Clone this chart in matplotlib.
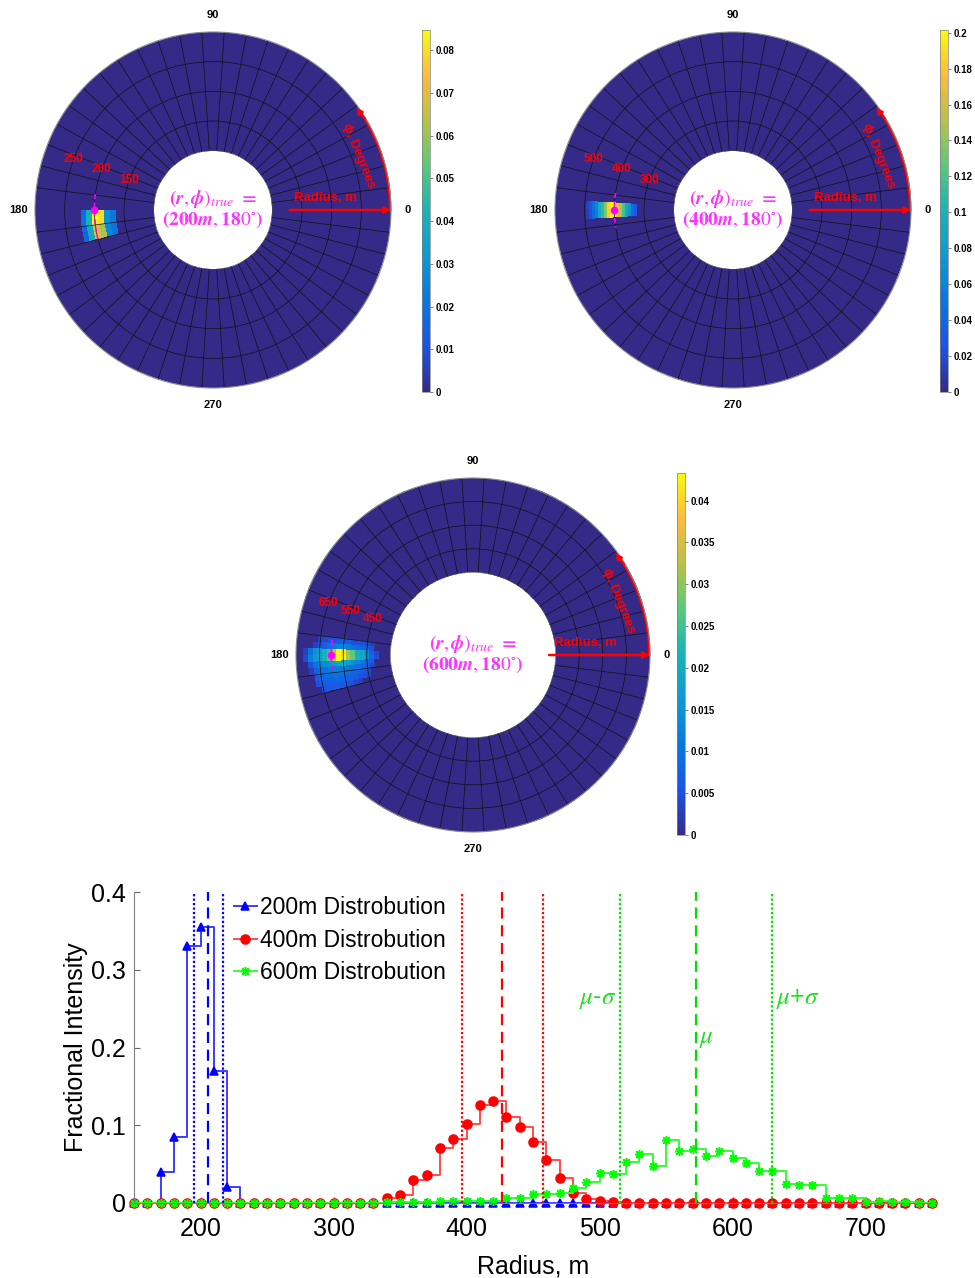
import numpy as np
import matplotlib
matplotlib.use('Agg')
import matplotlib.pyplot as plt
from matplotlib.colors import LinearSegmentedColormap

plt.rcParams['font.family'] = ['Liberation Sans', 'DejaVu Sans']
plt.rcParams['mathtext.fontset'] = 'stix'

# ---------------- Bottom chart data ----------------
radius_m = np.arange(150, 760, 10)

r200 = [170, 180, 190, 200, 210, 220]
v200 = [0.040, 0.085, 0.330, 0.355, 0.170, 0.020]

r400 = [340, 350, 360, 370, 380, 390, 400, 410, 420, 430, 440, 450, 460, 470, 480, 490, 500, 510]
v400 = [0.006, 0.010, 0.029, 0.036, 0.071, 0.082, 0.102, 0.126, 0.131, 0.111, 0.098, 0.078,
        0.055, 0.032, 0.013, 0.005, 0.003, 0.001]

r600 = [340, 350, 360, 370, 380, 390, 400, 410, 420, 430, 440, 450, 460, 470, 480, 490, 500, 510,
        520, 530, 540, 550, 560, 570, 580, 590, 600, 610, 620, 630, 640, 650, 660, 670, 680, 690,
        700, 710, 720, 730]
v600 = [0.001, 0.001, 0.001, 0.001, 0.002, 0.003, 0.002, 0.002, 0.002, 0.006, 0.007, 0.012,
        0.012, 0.013, 0.019, 0.027, 0.038, 0.037, 0.053, 0.063, 0.048, 0.081, 0.067, 0.070,
        0.061, 0.067, 0.058, 0.051, 0.041, 0.041, 0.025, 0.023, 0.023, 0.006, 0.007, 0.007,
        0.001, 0.002, 0.001, 0.001]

# mean / std lines
mu_vals = [205.8, 427.0, 572.5]
sigma_vals = [10.8, 30.5, 57.0]
series_names = ['200m Distrobution', '400m Distrobution', '600m Distrobution']

# ---------------- Polar heat-map data ----------------
# plot 1 (true 200 m): r cells of 10 m, theta cells of 7.2 deg
p1_r_edges = np.arange(95, 310, 10)
p1_th_step = 7.2
p1_patch_r = [170, 180, 190, 200, 210, 220]
p1_patch_th = [180.0, 187.2]
p1_patch_val = [[0.022, 0.028, 0.080, 0.085, 0.042, 0.018],
                [0.020, 0.026, 0.062, 0.070, 0.038, 0.016]]

# plot 2 (true 400 m): r cells of 10 m, theta cells of 3.6 deg
p2_r_edges = np.arange(195, 610, 10)
p2_th_step = 3.6
p2_patch_r = [330, 340, 350, 360, 370, 380, 390, 400, 410, 420, 430, 440, 450, 460, 470, 480, 490]
p2_patch_th = [176.4, 180.0]
p2_patch_val = [[0.030, 0.045, 0.075, 0.090, 0.120, 0.150, 0.175, 0.200, 0.198, 0.185, 0.140,
                 0.110, 0.095, 0.060, 0.045, 0.025, 0.015],
                [0.028, 0.042, 0.072, 0.088, 0.118, 0.148, 0.172, 0.199, 0.196, 0.182, 0.136,
                 0.108, 0.092, 0.058, 0.042, 0.022, 0.012]]

# plot 3 (true 600 m): r cells of 20 m, theta cells of 2.4 deg  (values x 0.001)
p3_r_edges = np.arange(340, 780, 20)
p3_th_step = 2.4
p3_patch_r = [410, 430, 450, 470, 490, 510, 530, 550, 570, 590, 610, 630, 650, 670, 690, 710]
p3_patch_th = [172.8, 175.2, 177.6, 180.0, 182.4, 184.8, 187.2, 189.6, 192.0]
p3_patch_val = [[0, 3, 4, 5, 5, 5, 6, 6, 6, 5, 5, 4, 3, 0, 0, 0],
                [0, 5, 7, 8, 9, 10, 12, 13, 13, 11, 9, 7, 5, 3, 0, 0],
                [4, 8, 13, 18, 20, 27, 31, 41, 43, 32, 25, 21, 17, 15, 10, 3],
                [5, 9, 14, 19, 21, 28, 32, 42, 43, 33, 26, 22, 18, 16, 12, 4],
                [0, 6, 8, 11, 13, 15, 17, 19, 19, 17, 15, 14, 12, 10, 5, 0],
                [0, 4, 6, 8, 9, 10, 11, 12, 12, 12, 11, 10, 9, 7, 3, 0],
                [0, 0, 5, 6, 7, 8, 9, 9, 10, 10, 9, 9, 8, 6, 0, 0],
                [0, 0, 4, 5, 5, 6, 7, 7, 8, 8, 8, 7, 7, 5, 0, 0],
                [0, 0, 0, 0, 3, 4, 5, 5, 6, 6, 6, 6, 5, 0, 0, 0]]
p3_scale = 0.001

# colour bar ticks / limits
cb1_ticks = [0, 0.01, 0.02, 0.03, 0.04, 0.05, 0.06, 0.07, 0.08]
cb2_ticks = [0, 0.02, 0.04, 0.06, 0.08, 0.1, 0.12, 0.14, 0.16, 0.18, 0.2]
cb3_ticks = [0, 0.005, 0.01, 0.015, 0.02, 0.025, 0.03, 0.035, 0.04]
vmax_list = [0.0847, 0.2015, 0.0433]

# true positions and dashed span (deg)
true_r = [200, 400, 600]
true_labels = ['200m', '400m', '600m']
dash_span = [(172.3, 194.3), (171.8, 188.7), (173.9, 186.9)]
rings = [[150, 200, 250], [300, 400, 500], [450, 550, 650]]
rlims = [(100, 300), (200, 600), (350, 750)]

parula = LinearSegmentedColormap.from_list('parula', [
    (0.2081, 0.1663, 0.5292), (0.1100, 0.3300, 0.9000), (0.0300, 0.4700, 0.8700),
    (0.0600, 0.6000, 0.8200), (0.1000, 0.7000, 0.7200), (0.3500, 0.7900, 0.4800),
    (0.7200, 0.7600, 0.2800), (0.9900, 0.7300, 0.2500), (0.9763, 0.9831, 0.0538)])


def build_grid(r_edges, th_step, patch_r, patch_th, patch_val, scale=1.0):
    n_th = int(round(360 / th_step))
    Z = np.zeros((len(r_edges) - 1, n_th))
    dr = r_edges[1] - r_edges[0]
    for i, th in enumerate(patch_th):
        j = int(round(th / th_step))
        for k, r in enumerate(patch_r):
            ir = int(round((r - r_edges[0] - dr / 2) / dr))
            Z[ir, j] = patch_val[i][k] * scale
    th_edges = np.deg2rad(np.linspace(0, 360, n_th + 1))
    return th_edges, Z


def draw_polar(fig, rect, cb_rect, th_edges, r_edges, Z, rlim, ring_vals, vmax, cb_ticks,
               r_true, span, lab):
    ax = fig.add_axes(rect, projection='polar')
    mesh = ax.pcolormesh(th_edges, r_edges, Z, cmap=parula, vmin=0, vmax=vmax, shading='flat')
    ax.set_rlim(rlim)
    ax.set_rorigin(0)

    # angle grid: spokes every 7.2 deg, labels at the quarters
    ax.set_xticks(np.deg2rad(np.arange(0, 360, 45)))
    ax.set_xticklabels(['0', '', '90', '', '180', '', '270', ''], fontweight='bold', fontsize=8)
    ax.set_xticks(np.deg2rad(np.arange(0, 359.9, 7.2)), minor=True)
    ax.xaxis.grid(False, which='major')
    ax.xaxis.grid(True, which='minor', color='#111111', lw=0.5)
    ax.tick_params(axis='x', which='minor', length=0)
    ax.tick_params(axis='x', which='major', length=4, pad=1, color='0.3')
    # radial rings
    ax.set_yticks(ring_vals)
    ax.set_yticklabels([])
    ax.yaxis.grid(True, color='#111111', lw=0.5)
    ax.tick_params(axis='y', length=0)
    ax.spines['polar'].set_color('0.55')
    ax.spines['polar'].set_linewidth(0.8)
    ax.spines['inner'].set_color('0.3')
    ax.spines['inner'].set_linewidth(0.4)

    for rv in ring_vals:
        ax.text(np.deg2rad(160), rv, str(rv), color='red', fontweight='bold', fontsize=8.5,
                ha='center', va='center')

    # true location marker
    arc = np.deg2rad(np.linspace(span[0], span[1], 30))
    ax.plot(arc, np.full(arc.size, r_true), '--', color='magenta', lw=1.2, dashes=(3, 2))
    ax.plot(np.deg2rad(180), r_true, 'o', color='magenta', ms=4.5)

    # radius arrow
    ax.annotate('', xy=(1.0, 0.5), xytext=(0.715, 0.5), xycoords='axes fraction',
                arrowprops=dict(arrowstyle='-|>', color='red', lw=1.8, mutation_scale=9,
                                shrinkA=0, shrinkB=0))
    ax.text(0.817, 0.535, 'Radius, m', transform=ax.transAxes, color='red', fontweight='bold',
            fontsize=9.5, ha='center', va='center')

    # phi arrow along the rim
    rmax = rlim[1]
    rim = np.deg2rad(np.linspace(0, 32, 40))
    ax.plot(rim, np.full(rim.size, rmax * 0.995), color='red', lw=1.8, clip_on=False)
    ax.annotate('', xy=(np.deg2rad(35.5), rmax * 0.99), xytext=(np.deg2rad(31), rmax * 0.995),
                arrowprops=dict(arrowstyle='-|>', color='red', lw=1.5, mutation_scale=9,
                                shrinkA=0, shrinkB=0), annotation_clip=False)
    ax.text(np.deg2rad(20.5), rmax * 0.875, '\u03d5, Degrees', color='red', fontweight='bold',
            fontsize=9.5, rotation=-68, ha='center', va='center', rotation_mode='anchor')

    # text inside the hole
    ax.text(0.5, 0.53, r'$\boldsymbol{(r,\phi)_{true}} \ \boldsymbol{=}$', transform=ax.transAxes,
            color='#ff33ff', fontsize=14, ha='center', va='center')
    ax.text(0.5, 0.472, r'$\boldsymbol{(' + lab[:-1] + r'm,180^{\circ})}$', transform=ax.transAxes,
            color='#ff33ff', fontsize=14, ha='center', va='center')

    cax = fig.add_axes(cb_rect)
    cb = fig.colorbar(mesh, cax=cax, ticks=cb_ticks)
    cax.set_yticklabels([f'{t:g}' for t in cb_ticks], fontweight='bold', fontsize=7)
    cax.tick_params(length=2, width=0.5, color='0.3', pad=2)
    cb.outline.set_linewidth(0.5)
    cb.outline.set_edgecolor('0.5')
    return ax


def full_series(rs, vs):
    out = np.zeros(len(radius_m))
    for r, v in zip(rs, vs):
        out[int(round((r - radius_m[0]) / 10))] = v
    return out


def main():
    fig = plt.figure(figsize=(9.75, 12.78), dpi=100)

    grids = [build_grid(p1_r_edges, p1_th_step, p1_patch_r, p1_patch_th, p1_patch_val),
             build_grid(p2_r_edges, p2_th_step, p2_patch_r, p2_patch_th, p2_patch_val),
             build_grid(p3_r_edges, p3_th_step, p3_patch_r, p3_patch_th, p3_patch_val, p3_scale)]
    r_edges_all = [p1_r_edges, p2_r_edges, p3_r_edges]
    cb_ticks_all = [cb1_ticks, cb2_ticks, cb3_ticks]

    W, H = 975.0, 1278.0
    # polar boxes in pixels: (left, top, size)
    boxes = [(35, 32, 356), (555, 32, 356), (296, 478, 354)]
    cb_boxes = [(422, 30, 8, 362), (940, 30, 8, 362), (677, 473, 8, 362)]
    for i in range(3):
        l, t, s = boxes[i]
        rect = [l / W, 1 - (t + s) / H, s / W, s / H]
        cl, ct, cw, ch = cb_boxes[i]
        cb_rect = [cl / W, 1 - (ct + ch) / H, cw / W, ch / H]
        th_edges, Z = grids[i]
        draw_polar(fig, rect, cb_rect, th_edges, r_edges_all[i], Z, rlims[i], rings[i],
                   vmax_list[i], cb_ticks_all[i], true_r[i], dash_span[i], true_labels[i])

    # ---------------- bottom line chart ----------------
    ax = fig.add_axes([134 / W, 1 - 1203 / H, 798 / W, 311 / H])
    styles = [dict(marker='^', line='#3d3dff', mc='#0000ff', ms=6),
              dict(marker='o', line='#ff4d4d', mc='#ff0000', ms=6.5),
              dict(marker=(8, 2, 0), line='#33ff33', mc='#00ff00', ms=6.5)]
    data = [full_series(r200, v200), full_series(r400, v400), full_series(r600, v600)]
    for vals, st, name in zip(data, styles, series_names):
        ax.plot(radius_m, vals, drawstyle='steps-post', color=st['line'], lw=1.4,
                marker=st['marker'], ms=st['ms'], mfc=st['mc'], mec=st['mc'], mew=1.1,
                label=name, clip_on=False)

    line_cols = ['#0000ff', '#ff0000', '#00e000']
    for mu, sd, c in zip(mu_vals, sigma_vals, line_cols):
        ax.axvline(mu, color=c, lw=1.6, ls=(0, (5, 3)))
        ax.axvline(mu - sd, color=c, lw=1.6, ls=(0, (1, 1)))
        ax.axvline(mu + sd, color=c, lw=1.6, ls=(0, (1, 1)))

    g = '#22dd22'
    ax.text(mu_vals[2] - sigma_vals[2] - 3, 0.263, r'$\mu$-$\sigma$', color=g, fontsize=18,
            ha='right', va='center')
    ax.text(mu_vals[2] + 2, 0.212, r'$\mu$', color=g, fontsize=18, ha='left', va='center')
    ax.text(mu_vals[2] + sigma_vals[2] + 3, 0.263, r'$\mu$+$\sigma$', color=g, fontsize=18,
            ha='left', va='center')

    ax.set_xlim(150, 750)
    ax.set_ylim(0, 0.4)
    ax.set_xticks([200, 300, 400, 500, 600, 700])
    ax.set_yticks([0, 0.1, 0.2, 0.3, 0.4])
    ax.set_yticklabels(['0', '0.1', '0.2', '0.3', '0.4'])
    ax.tick_params(labelsize=18, direction='in', length=4, color='0.4')
    ax.tick_params(axis='x', pad=10)
    ax.tick_params(axis='y', pad=6)
    for s in ['top', 'right']:
        ax.spines[s].set_visible(False)
    for s in ['left', 'bottom']:
        ax.spines[s].set_color('0.5')
    ax.set_xlabel('Radius, m', fontsize=18, labelpad=10)
    ax.set_ylabel('Fractional Intensity', fontsize=18, labelpad=2)
    ax.legend(loc='upper left', bbox_to_anchor=(0.108, 1.03), frameon=False, fontsize=16.5,
              handlelength=1.0, handletextpad=0.15, labelspacing=0.4, borderpad=0.1)

    fig.savefig('out.png', dpi=100)


if __name__ == '__main__':
    main()
